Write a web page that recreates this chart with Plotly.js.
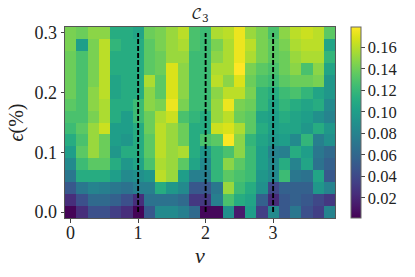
<!DOCTYPE html>
<html><head><meta charset="utf-8">
<script src="https://cdn.plot.ly/plotly-3.0.1.min.js"></script>
<style>html,body{margin:0;padding:0;background:#fff}</style></head>
<body><div id="c" style="width:415px;height:277px"></div>
<script>
const nu = [0,0.1667,0.3333,0.5,0.6667,0.8333,1,1.1667,1.3333,1.5,1.6667,1.8333,2,2.1667,2.3333,2.5,2.6667,2.8333,3,3.1667,3.3333,3.5,3.6667,3.8333];
const eps = [0.30,0.28,0.26,0.24,0.22,0.20,0.18,0.16,0.14,0.12,0.10,0.08,0.06,0.04,0.02,0.00];
const r30=[.143,.139,.148,.148,.111,.111,.105,.139,.143,.152,.161,.128,.123,.157,.161,.174,.152,.143,.128,.148,.161,.165,.161,.134];
const r28=[.143,.10,.143,.161,.118,.111,.111,.134,.143,.152,.157,.128,.123,.143,.157,.174,.161,.143,.134,.143,.157,.161,.161,.105];
const r26=[.139,.128,.143,.161,.111,.111,.111,.134,.139,.152,.152,.123,.123,.148,.157,.174,.157,.143,.134,.139,.152,.157,.157,.118];
const r24=[.139,.128,.143,.161,.111,.111,.111,.134,.139,.169,.148,.123,.123,.157,.157,.179,.143,.134,.128,.139,.148,.128,.148,.105];
const r22=[.139,.128,.143,.161,.105,.111,.111,.157,.134,.169,.148,.123,.123,.161,.148,.169,.139,.128,.123,.134,.139,.139,.143,.095];
const r20=[.139,.128,.148,.161,.105,.111,.111,.148,.134,.169,.148,.123,.123,.148,.161,.161,.143,.118,.111,.123,.128,.118,.105,.095];
const r18=[.134,.128,.148,.157,.111,.111,.123,.148,.143,.174,.143,.123,.123,.152,.174,.143,.139,.118,.105,.118,.111,.105,.111,.085];
const r16=[.128,.128,.143,.157,.111,.10,.123,.139,.157,.165,.128,.118,.111,.152,.161,.139,.134,.105,.10,.111,.105,.10,.09,.08];
const r14=[.123,.134,.152,.165,.10,.10,.111,.139,.161,.152,.139,.111,.111,.165,.169,.157,.134,.111,.10,.105,.105,.095,.111,.095];
const r12=[.111,.128,.152,.139,.10,.095,.111,.134,.161,.152,.139,.111,.128,.134,.178,.148,.118,.105,.095,.10,.085,.118,.077,.09];
const r10=[.10,.134,.152,.139,.095,.111,.111,.134,.161,.152,.157,.111,.095,.118,.128,.148,.123,.10,.08,.077,.111,.10,.072,.062];
const r08=[.085,.123,.134,.134,.111,.095,.105,.128,.157,.152,.134,.105,.085,.118,.148,.134,.123,.10,.085,.111,.08,.105,.068,.056];
const r06=[.072,.111,.111,.111,.10,.085,.09,.095,.161,.152,.10,.077,.077,.118,.134,.128,.123,.095,.085,.123,.072,.068,.105,.05];
const r04=[.05,.072,.08,.077,.072,.068,.077,.077,.111,.095,.085,.05,.05,.072,.152,.123,.111,.09,.04,.056,.056,.056,.095,.08];
const r02=[.024,.045,.062,.062,.056,.045,.024,.068,.068,.068,.062,.03,.03,.077,.128,.111,.105,.056,.022,.05,.056,.05,.04,.03];
const r00=[.003,.024,.045,.045,.034,.024,.003,.05,.085,.085,.077,.062,.005,.005,.09,.014,.10,.034,.085,.05,.072,.045,.034,.08];
const rows=[r30,r28,r26,r24,r22,r20,r18,r16,r14,r12,r10,r08,r06,r04,r02,r00];
const dashX=[1,2,3];
const dashY=[0,0.3];
const xTicks=[0,1,2,3];
const yTicks=[0,0.1,0.2,0.3];
const cbTicks=[0.02,0.04,0.06,0.08,0.10,0.12,0.14,0.16];
const serif='Liberation Serif';
const traces=[{type:'heatmap',x:nu,y:eps,z:rows,colorscale:'Viridis',zmin:0.0014,zmax:0.1789,
  colorbar:{x:1.059,xanchor:'left',xpad:0,ypad:0,y:0.5,yanchor:'middle',len:1,lenmode:'fraction',thickness:9.5,
    tickvals:cbTicks,ticktext:cbTicks.map(v=>v.toFixed(2)),ticks:'outside',ticklen:3.5,tickcolor:'#444',
    tickfont:{family:serif,size:16.5,color:'#222'},outlinecolor:'#666',outlinewidth:1}}];
dashX.forEach(x=>traces.push({type:'scatter',mode:'lines',x:[x,x],y:dashY,showlegend:false,
  line:{color:'#000',width:1.9,dash:'5px,2px'},hoverinfo:'skip'}));
const layout={width:415,height:277,margin:{l:65,r:80,t:27,b:59},paper_bgcolor:'#fff',plot_bgcolor:'#fff',showlegend:false,
  title:{text:'𝒞<sub>3</sub>',x:0.5,xref:'paper',xanchor:'center',y:0.95,yanchor:'middle',font:{family:'DejaVu Math TeX Gyre, DejaVu Serif, serif',size:15,color:'#222'}},
  xaxis:{range:[-0.0833,3.9167],tickvals:xTicks,ticktext:xTicks.map(String),ticks:'outside',ticklen:3.5,tickcolor:'#444',ticklabelstandoff:-5,
    tickfont:{family:serif,size:18,color:'#222'},showgrid:false,zeroline:false,showline:true,mirror:true,linecolor:'#555',linewidth:1,
    title:{text:'<i>ν</i>',standoff:0,font:{family:serif,size:22,color:'#222'}}},
  yaxis:{range:[-0.01,0.31],tickvals:yTicks,ticktext:yTicks.map(v=>v.toFixed(1)),ticks:'outside',ticklen:3.5,tickcolor:'#444',
    tickfont:{family:serif,size:18,color:'#222'},showgrid:false,zeroline:false,showline:true,mirror:true,linecolor:'#555',linewidth:1,
    title:{text:'<i>ϵ</i>(%)',standoff:5,font:{family:serif,size:20,color:'#222'}}}};
Plotly.newPlot('c',traces,layout,{displayModeBar:false,staticPlot:true});
</script></body></html>
